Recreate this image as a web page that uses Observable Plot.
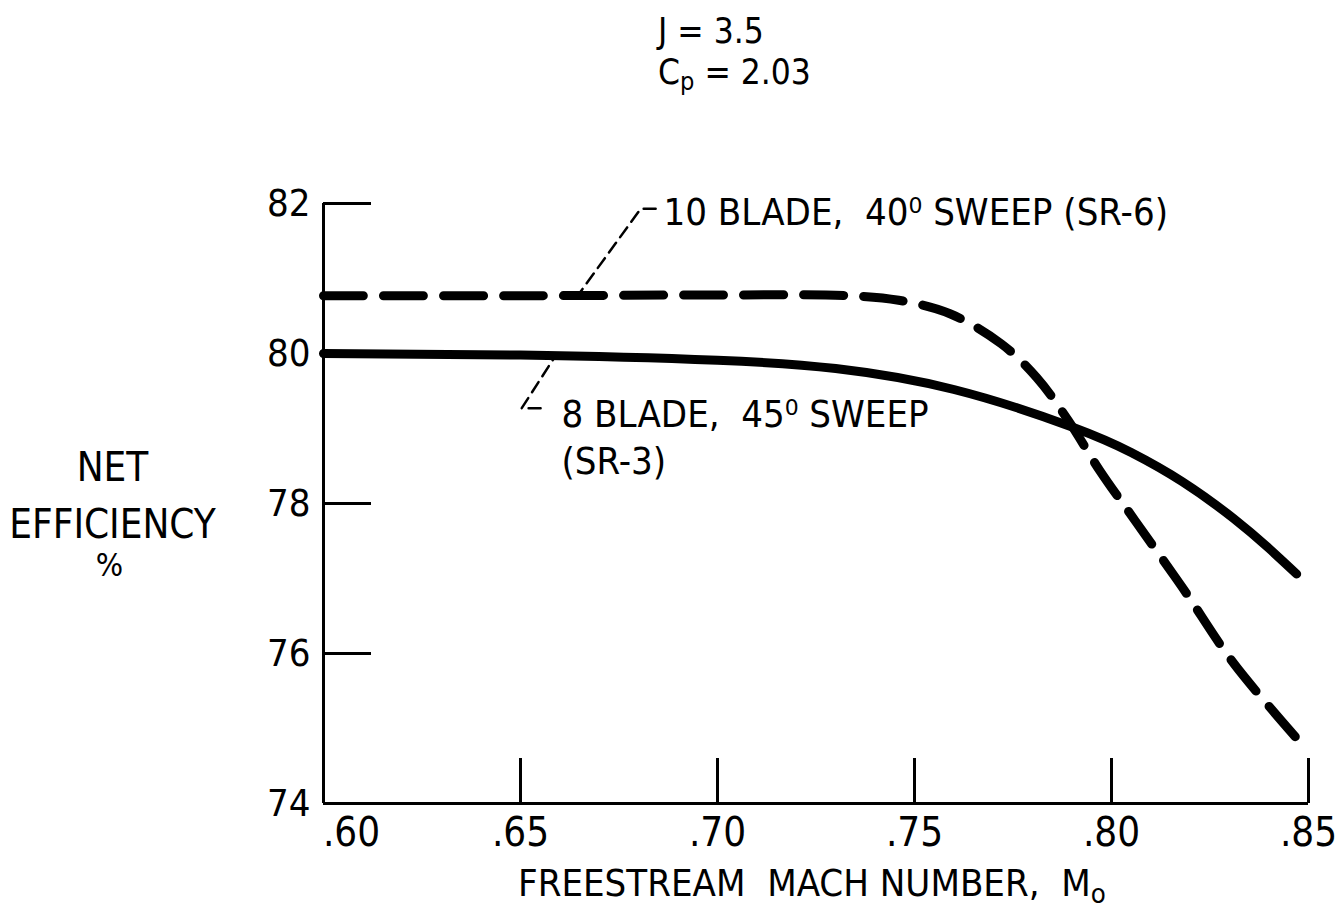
<!DOCTYPE html>
<html><head><meta charset="utf-8">
<script src="https://cdn.jsdelivr.net/npm/d3@7"></script>
<script src="https://cdn.jsdelivr.net/npm/@observablehq/plot@0.6"></script>
<style>
body{margin:0;background:#fff;}
#wrap{width:1339px;height:909px;position:relative;overflow:hidden;font-family:"Liberation Sans Narrow","DejaVu Sans Condensed","Arial Narrow",sans-serif;font-stretch:condensed;color:#000;background:#fff;}
#title{height:135px;box-sizing:border-box;padding-left:658px;padding-top:11px;font-size:35px;line-height:41px;}
#title div{white-space:pre;}
#xlabel{height:49px;box-sizing:border-box;padding-left:518px;padding-top:0px;font-size:38px;line-height:46px;white-space:pre;}
sub{font-size:0.72em;vertical-align:-0.25em;line-height:0;}
svg{display:block;}
</style>
</head><body>
<div id="wrap">
<div id="title"><div>J = 3.5</div><div>C<sub>p</sub> = 2.03</div></div>
<div id="chart"></div>
<div id="xlabel">FREESTREAM  MACH NUMBER,  M<sub>o</sub></div>
</div>
<script>
const FONT = '"Liberation Sans Narrow","DejaVu Sans Condensed","Arial Narrow",sans-serif';

// axes
const xDomain = [0.60, 0.85];
const yDomain = [74, 82];
const machTicks = [0.60, 0.65, 0.70, 0.75, 0.80, 0.85];
const effTicks = [74, 76, 78, 80, 82];

// 8 blade, 45 deg sweep (SR-3) — solid
const sr3Mach = [0.60, 0.65, 0.70, 0.73, 0.76, 0.79, 0.805, 0.818, 0.831, 0.84, 0.847];
const sr3Eff  = [80.0, 79.98, 79.91, 79.8, 79.52, 79.02, 78.68, 78.29, 77.8, 77.4, 77.06];

// 10 blade, 40 deg sweep (SR-6) — dashed
const sr6Mach = [0.60, 0.65, 0.70, 0.734, 0.746, 0.759, 0.772, 0.781, 0.789, 0.797, 0.806, 0.818, 0.831, 0.849];
const sr6Eff  = [80.77, 80.77, 80.78, 80.77, 80.71, 80.53, 80.13, 79.68, 79.11, 78.44, 77.77, 76.88, 75.87, 74.75];

// annotations
const sr6Label = "10 BLADE,  40\u2070 SWEEP (SR-6)";
const sr3Label = "8 BLADE,  45\u2070 SWEEP\n(SR-3)";
const sr6LabelAt = {mach: 0.6863, eff: 81.72};
const sr3LabelAt = {mach: 0.6604, eff: 78.40};
const sr6LeaderMach = [0.6843, 0.6805, 0.6645];
const sr6LeaderEff  = [81.93, 81.93, 80.77];
const sr3LeaderMach = [0.6551, 0.6503, 0.6584];
const sr3LeaderEff  = [79.27, 79.27, 79.93];
const yLabelLines = ["NET", "EFFICIENCY", "%"];

const toRows = (xs, ys) => xs.map((x, i) => ({x, y: ys[i]}));
const sr3 = toRows(sr3Mach, sr3Eff);
const sr6 = toRows(sr6Mach, sr6Eff);
const lead6 = toRows(sr6LeaderMach, sr6LeaderEff);
const lead3 = toRows(sr3LeaderMach, sr3LeaderEff);
const fmtMach = d => d.toFixed(2).slice(1);

const chart = Plot.plot({
  width: 1339, height: 725,
  marginLeft: 323, marginRight: 31, marginTop: 68, marginBottom: 57,
  x: {domain: xDomain},
  y: {domain: yDomain},
  style: {fontFamily: FONT, fontSize: "38px", color: "#000", background: "#fff", overflow: "visible", fontStretch: "condensed"},
  marks: [
    Plot.axisY({ticks: effTicks, tickSize: -48, tickPadding: 61, strokeWidth: 3, tickFormat: d => String(d), label: null, fontSize: 38}),
    Plot.axisX({ticks: machTicks.slice(1), tickSize: -45, tickPadding: 59, strokeWidth: 3, tickFormat: fmtMach, label: null, fontSize: 40}),
    Plot.axisX({ticks: machTicks.slice(0, 1), tickSize: 0, tickPadding: 14, tickFormat: fmtMach, label: null, fontSize: 40, dx: 28}),
    Plot.ruleX([xDomain[0]], {y1: yDomain[0], y2: yDomain[1], strokeWidth: 3}),
    Plot.ruleY([yDomain[0]], {x1: xDomain[0], x2: xDomain[1], strokeWidth: 3}),
    Plot.line(sr3, {x: "x", y: "y", stroke: "#000", strokeWidth: 9, curve: "natural", strokeLinecap: "round"}),
    Plot.line(sr6, {x: "x", y: "y", stroke: "#000", strokeWidth: 9, curve: "catmull-rom", strokeDasharray: "40,20", strokeLinecap: "round"}),
    Plot.line(lead6, {x: "x", y: "y", stroke: "#000", strokeWidth: 2.5, strokeDasharray: "12,7"}),
    Plot.line(lead3, {x: "x", y: "y", stroke: "#000", strokeWidth: 2.5, strokeDasharray: "12,7"}),
    Plot.text([sr6Label], {x: () => sr6LabelAt.mach, y: () => sr6LabelAt.eff, text: d => d, textAnchor: "start", lineAnchor: "bottom", fontSize: 38}),
    Plot.text([sr3Label], {x: () => sr3LabelAt.mach, y: () => sr3LabelAt.eff, text: d => d, textAnchor: "start", lineAnchor: "bottom", fontSize: 38, lineHeight: 1.22}),
    Plot.text([yLabelLines[0]], {frameAnchor: "left", dx: -211, dy: -23, text: d => d, textAnchor: "middle", lineAnchor: "bottom", fontSize: 40}),
    Plot.text([yLabelLines[1]], {frameAnchor: "left", dx: -211, dy: 34, text: d => d, textAnchor: "middle", lineAnchor: "bottom", fontSize: 40}),
    Plot.text([yLabelLines[2]], {frameAnchor: "left", dx: -214, dy: 72, text: d => d, textAnchor: "middle", lineAnchor: "bottom", fontSize: 32})
  ]
});
document.getElementById("chart").appendChild(chart);
</script>
</body></html>
